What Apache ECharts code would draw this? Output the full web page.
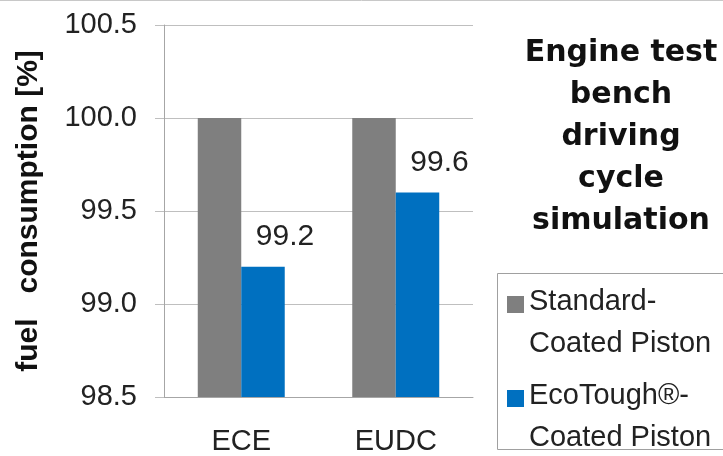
<!DOCTYPE html>
<html>
<head>
<meta charset="utf-8">
<script src="https://cdn.jsdelivr.net/npm/echarts@6/dist/echarts.min.js"></script>
<style>
  html, body { margin: 0; padding: 0; background: #fff; }
  #main { width: 723px; height: 456px; }
</style>
</head>
<body>
<div id="main"></div>
<script>
var categories = ['ECE', 'EUDC'];
var standardValues = [100.0, 100.0];
var ecoToughValues = [99.2, 99.6];
var seriesNames = ['Standard-\nCoated Piston', 'EcoTough®-\nCoated Piston'];

var myChart = echarts.init(document.getElementById('main'));

var option = {
    backgroundColor: '#fff',
    animation: false,
    title: {
        text: 'Engine test\nbench\ndriving\ncycle\nsimulation',
        left: 621,
        top: 32,
        padding: 0,
        textAlign: 'center',
        textStyle: {
            fontFamily: 'DejaVu Sans',
            fontWeight: 'bold',
            fontSize: 30,
            lineHeight: 42,
            color: '#111'
        }
    },
    legend: {
        orient: 'vertical',
        left: 507,
        top: 281,
        height: 260,
        padding: 0,
        itemGap: 10,
        itemWidth: 17,
        itemHeight: 54,
        icon: 'path://M0,0H17V17H0ZM0,54',
        data: seriesNames,
        textStyle: {
            fontFamily: 'Liberation Sans',
            fontSize: 29,
            lineHeight: 42,
            color: '#222'
        }
    },
    graphic: [
        {
            type: 'rect',
            shape: { x: 497.5, y: 273.5, width: 240, height: 176 },
            style: { fill: 'none', stroke: '#a0a0a0', lineWidth: 1 }
        },
        {
            type: 'line',
            shape: { x1: 0, y1: 0.5, x2: 723, y2: 0.5 },
            style: { stroke: '#c8c8c8', lineWidth: 1 }
        }
    ],
    grid: {
        left: 164,
        right: 250,
        top: 25,
        bottom: 58
    },
    xAxis: {
        type: 'category',
        data: categories,
        axisLine: { lineStyle: { color: '#a6a6a6' } },
        axisTick: { length: 10, lineStyle: { color: '#a6a6a6' } },
        axisLabel: {
            margin: 30,
            fontFamily: 'Liberation Sans',
            fontSize: 29,
            color: '#222'
        }
    },
    yAxis: {
        type: 'value',
        min: 98.5,
        max: 100.5,
        interval: 0.5,
        name: 'fuel   consumption [%]',
        nameLocation: 'middle',
        nameGap: 120,
        nameRotate: 90,
        nameTextStyle: {
            fontFamily: 'Liberation Sans',
            fontWeight: 'bold',
            fontSize: 30,
            color: '#111'
        },
        axisLine: { show: true, lineStyle: { color: '#a6a6a6' } },
        axisTick: { show: true, length: 9, lineStyle: { color: '#bfbfbf' } },
        splitLine: { lineStyle: { color: '#bfbfbf' } },
        axisLabel: {
            margin: 27,
            fontFamily: 'Liberation Sans',
            fontSize: 29,
            color: '#222',
            formatter: function (v) { return v.toFixed(1); }
        }
    },
    series: [
        {
            name: seriesNames[0],
            type: 'bar',
            data: standardValues,
            barGap: '0%',
            barCategoryGap: '43.7%',
            itemStyle: { color: '#7f7f7f' }
        },
        {
            name: seriesNames[1],
            type: 'bar',
            data: ecoToughValues,
            itemStyle: { color: '#0070c0' },
            label: {
                show: true,
                position: 'top',
                offset: [22, -10],
                fontFamily: 'Liberation Sans',
                fontSize: 30,
                color: '#222',
                formatter: function (p) { return p.value.toFixed(1); }
            }
        }
    ]
};

myChart.setOption(option);
</script>
</body>
</html>
